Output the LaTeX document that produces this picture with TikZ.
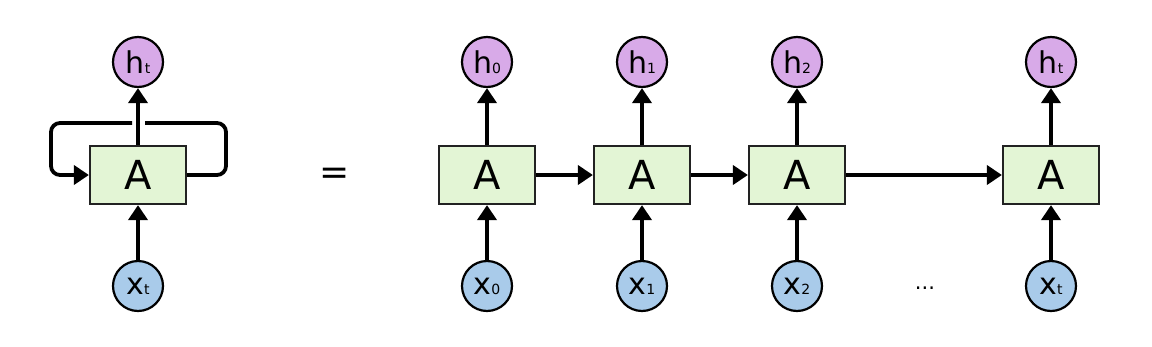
\documentclass[tikz,border=0pt]{standalone}
\usepackage{fontspec}
\setmainfont{DejaVu Sans}
\usetikzlibrary{arrows.meta,calc}
\definecolor{boxfill}{HTML}{E3F5D5}
\definecolor{hfill}{HTML}{D8AAE8}
\definecolor{xfill}{HTML}{A9CBEA}
\definecolor{boxline}{HTML}{222222}
\newcommand{\bigA}{{\fontsize{40}{40}\selectfont A}}
\newcommand{\lab}[2]{{\fontsize{30}{30}\selectfont #1}{\fontsize{14}{14}\selectfont #2}}
\begin{document}
\begin{tikzpicture}[x=1pt,y=-1pt,
  cell/.style={draw=boxline,line width=2.2pt,fill=boxfill,minimum width=96pt,minimum height=58pt,inner sep=0pt,text depth=0pt},
  hnode/.style={circle,draw=black,line width=2.2pt,fill=hfill,minimum size=50pt,inner sep=0pt},
  xnode/.style={circle,draw=black,line width=2.2pt,fill=xfill,minimum size=50pt,inner sep=0pt},
  conn/.style={line width=3.8pt,-{Triangle[length=15pt,width=19pt]}},
  plain/.style={line width=3.8pt}]
\useasboundingbox (0,0) rectangle (1152,346);

% rolled
\node[cell] (A) at (138,175) {\bigA};
\node[hnode] (ht) at (138,62) {\lab{h}{t}};
\node[xnode] (xt) at (138,286) {\lab{x}{t}};
\draw[conn] (xt) -- (A);
\draw[conn] (A) -- (ht);
\coordinate (r1) at (226,175);
\coordinate (r2) at (226,123);
\coordinate (r3) at (145,123);
\coordinate (l1) at (132,123);
\coordinate (l2) at (51,123);
\coordinate (l3) at (51,175);
\draw[plain,rounded corners=9pt] (A.east) -- (r1) -- (r2) -- (r3);
\draw[conn,rounded corners=9pt] (l1) -- (l2) -- (l3) -- (A.west);

% equals
\node (eq) at (335,176) {{\fontsize{36}{36}\selectfont =}};

% unrolled
\foreach \n/\x/\s in {0/487/0,1/642/1,2/797/2,3/1051/t}{
  \node[cell] (A\n) at (\x,175) {\bigA};
  \node[hnode] (h\n) at (\x,62) {\lab{h}{\s}};
  \node[xnode] (x\n) at (\x,286) {\lab{x}{\s}};
  \draw[conn] (x\n) -- (A\n);
  \draw[conn] (A\n) -- (h\n);
}
\draw[conn] (A0) -- (A1);
\draw[conn] (A1) -- (A2);
\draw[conn] (A2) -- (A3);
\node (dots) at (925,288) {{\fontsize{21}{21}\selectfont ...}};
\end{tikzpicture}
\end{document}
